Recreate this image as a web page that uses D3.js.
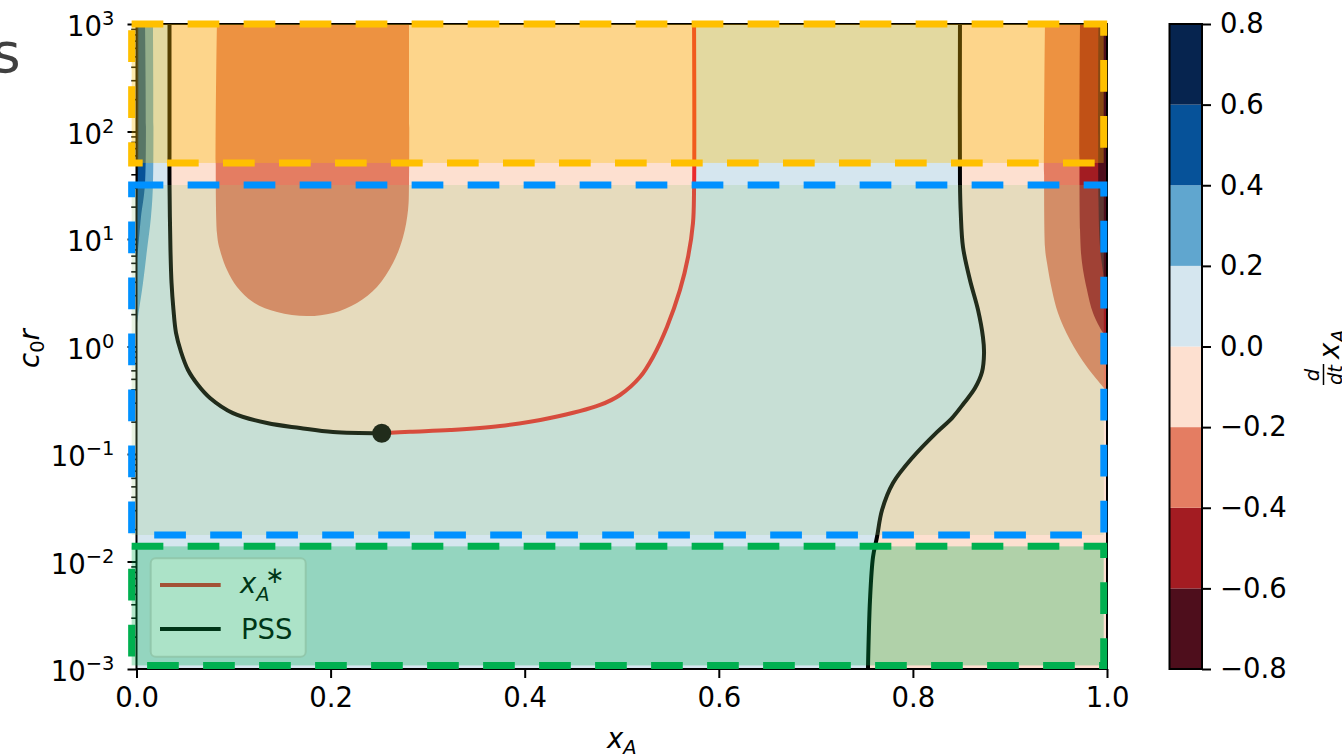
<!DOCTYPE html>
<html>
<head>
<meta charset="utf-8">
<script src="https://cdn.jsdelivr.net/npm/d3@7"></script>
<style>
  body { margin: 0; background: #fff; }
  svg { display: block; font-family: "DejaVu Sans", sans-serif; }
</style>
</head>
<body>
<svg id="chart" width="1342" height="754"></svg>
<script>
// ---- contour levels of d/dt x_A and their fill colours ----
const levels = [-0.8, -0.6, -0.4, -0.2, 0.0, 0.2, 0.4, 0.6, 0.8];
const levelColors = ["#4e0e1c", "#a31c22", "#e47d62", "#fde0d0",
                     "#d5e6ef", "#60a6cf", "#065299", "#06244f"];

// ---- axis ticks ----
const xTicks = [0, 0.2, 0.4, 0.6, 0.8, 1.0];
const yTicks = [1e-3, 1e-2, 1e-1, 1e0, 1e1, 1e2, 1e3];
const yMinorTicks = d3.range(-3, 3).flatMap(e => d3.range(2, 10).map(k => k * Math.pow(10, e)));

// ---- curves as [x_A, c0 r] ----
// zero level, left branch (PSS), from the top down to the fixed point
const pssLeft = [[0.034, 1000], [0.034, 67], [0.034, 33], [0.035, 7.9], [0.0361, 3.9],
  [0.0381, 2.19], [0.0407, 1.34], [0.0459, 0.889], [0.0531, 0.604], [0.0634, 0.438],
  [0.0757, 0.332], [0.0994, 0.240], [0.1345, 0.194], [0.1685, 0.1745], [0.2025, 0.160],
  [0.2527, 0.156]];
// zero level, stable branch x*_A, from the fixed point up to the top
const xStar = [[0.2527, 0.156], [0.2818, 0.161], [0.323, 0.167], [0.3746, 0.182],
  [0.4261, 0.216], [0.4776, 0.286], [0.4982, 0.354], [0.5188, 0.52], [0.5322, 0.80],
  [0.5466, 1.52], [0.560, 3.36], [0.5683, 6.8], [0.5734, 14.1], [0.5745, 28.6], [0.5745, 1000]];
// zero level, right branch (PSS)
const pssRight = [[0.8485, 1000], [0.8485, 33], [0.8493, 17.5], [0.8516, 8.43], [0.8588, 4.16],
  [0.8671, 2.19], [0.8722, 1.22], [0.8733, 0.87], [0.8712, 0.579], [0.864, 0.411],
  [0.8527, 0.298], [0.8403, 0.216], [0.8248, 0.160], [0.8001, 0.0938], [0.7795, 0.0537],
  [0.7682, 0.0301], [0.763, 0.0169], [0.7589, 0.011], [0.7558, 0.00439], [0.7537, 0.001]];
// -0.2 level, middle lobe
const neg02Mid = [[0.0829, 1000], [0.0829, 11.4], [0.086, 7.9], [0.0933, 5.15], [0.1036, 3.58],
  [0.12, 2.59], [0.1448, 2.09], [0.1757, 1.92], [0.2025, 2.05], [0.2272, 2.54], [0.2478, 3.58],
  [0.2643, 5.98], [0.2746, 10.4], [0.2798, 18.6], [0.2808, 33.2], [0.2808, 1000]];
// -0.2, -0.4, -0.6 levels near x_A = 1
const neg02Right = [[0.9361, 1000], [0.9361, 8.43], [0.9382, 5.98], [0.9433, 3.36],
  [0.9495, 2.05], [0.9619, 1.15], [0.9794, 0.644], [0.9959, 0.42], [1.0, 0.377]];
const neg04Right = [[0.9722, 1000], [0.9722, 12.1], [0.9743, 5.98], [0.9794, 3.36],
  [0.9856, 2.05], [0.9959, 1.34], [1.0, 1.20]];
const neg06Right = [[0.9912, 1000], [0.9912, 23.1], [0.9928, 8.43], [0.9969, 4.16], [1.0, 2.19]];
// 0.2, 0.4, 0.6 levels near x_A = 0
const pos02Left = [[0.017, 1000], [0.017, 33.2], [0.0149, 16.0], [0.0108, 7.9],
  [0.0067, 3.9], [0.0015, 1.88], [0.0, 1.52]];
const pos04Left = [[0.0088, 1000], [0.0088, 33.2], [0.0046, 16.0], [0.0015, 7.9], [0.0, 6.1]];
const pos06Left = [[0.0019, 1000], [0.0019, 67], [0.001, 23], [0.0, 12.1]];

// saddle-node point where the two branches meet
const fixedPoint = [0.2527, 0.156];

// highlighted regimes: [x_A from, x_A to, c0 r low, c0 r high]
const regimeHigh = [-0.005, 0.9966, 51, 1000];
const regimeMid = [-0.005, 0.9967, 0.01766, 31.8];
const regimeLow = [-0.005, 0.9966, 0.00108, 0.01383];

// ---------------------------------------------------------------
const svg = d3.select("#chart");
const FONT = "'DejaVu Sans', sans-serif";
const FS = 27.5, FS_SMALL = 19.5;
const plot = { left: 136.5, right: 1107, top: 24, bottom: 669 };

const x = d3.scaleLinear().domain([0, 1]).range([plot.left, plot.right]);
const y = d3.scaleLog().domain([1e-3, 1e3]).range([plot.bottom, plot.top]);

const curve = d3.line().x(d => x(d[0])).y(d => y(d[1])).curve(d3.curveCatmullRom.alpha(0.5));
const region = (pts, corners) =>
  curve(pts) + corners.map(p => `L${x(p[0])},${y(p[1])}`).join("") + "Z";

svg.append("clipPath").attr("id", "plotClip")
  .append("rect").attr("x", plot.left).attr("y", plot.top)
  .attr("width", plot.right - plot.left).attr("height", plot.bottom - plot.top);

const field = svg.append("g").attr("clip-path", "url(#plotClip)");

// level 0 .. 0.2 fills the background
field.append("rect").attr("x", plot.left).attr("y", plot.top)
  .attr("width", plot.right - plot.left).attr("height", plot.bottom - plot.top)
  .attr("fill", levelColors[4]);

const fills = [
  { d: region(pssLeft.concat(xStar.slice(1)), []), c: levelColors[3] },
  { d: region(pssRight, [[1.02, 0.0008], [1.02, 1000]]), c: levelColors[3] },
  { d: region(neg02Mid, []), c: levelColors[2] },
  { d: region(neg02Right, [[1.02, 0.377], [1.02, 1000]]), c: levelColors[2] },
  { d: region(neg04Right, [[1.02, 1.20], [1.02, 1000]]), c: levelColors[1] },
  { d: region(neg06Right, [[1.02, 2.19], [1.02, 1000]]), c: levelColors[0] },
  { d: region(pos02Left, [[-0.02, 1.52], [-0.02, 1000]]), c: levelColors[5] },
  { d: region(pos04Left, [[-0.02, 6.1], [-0.02, 1000]]), c: levelColors[6] },
  { d: region(pos06Left, [[-0.02, 12.1], [-0.02, 1000]]), c: levelColors[7] }
];
field.selectAll("path.level").data(fills).join("path")
  .attr("class", "level").attr("d", d => d.d).attr("fill", d => d.c);

// zero-level branches
field.append("path").attr("d", curve(xStar)).attr("fill", "none")
  .attr("stroke", "#ea2a2c").attr("stroke-width", 4);
field.append("path").attr("d", curve(pssLeft)).attr("fill", "none")
  .attr("stroke", "#000").attr("stroke-width", 4);
field.append("path").attr("d", curve(pssRight)).attr("fill", "none")
  .attr("stroke", "#000").attr("stroke-width", 4);
field.append("circle").attr("cx", x(fixedPoint[0])).attr("cy", y(fixedPoint[1]))
  .attr("r", 9.5).attr("fill", "#000");

// legend
const legend = svg.append("g").attr("font-family", FONT);
legend.append("rect").attr("x", 150.7).attr("y", 558.3).attr("width", 155).attr("height", 98.4)
  .attr("rx", 5).attr("fill", "rgba(255,255,255,0.8)")
  .attr("stroke", "rgba(204,204,204,0.8)").attr("stroke-width", 2);
legend.append("line").attr("x1", 160).attr("x2", 220.7).attr("y1", 585).attr("y2", 585)
  .attr("stroke", "#ea2a2c").attr("stroke-width", 4);
legend.append("line").attr("x1", 160).attr("x2", 220.7).attr("y1", 629).attr("y2", 629)
  .attr("stroke", "#000").attr("stroke-width", 4);
const lx = legend.append("text").attr("x", 240).attr("y", 593).attr("font-size", FS).attr("fill", "#000");
lx.append("tspan").attr("font-style", "italic").text("x");
lx.append("tspan").attr("font-style", "italic").attr("font-size", FS_SMALL).attr("dy", 7.5).text("A");
lx.append("tspan").attr("font-size", 23).attr("x", 265).attr("y", 583).text("\u2217");
legend.append("text").attr("x", 241).attr("y", 639).attr("font-size", FS).attr("fill", "#000").text("PSS");

// spines
svg.append("rect").attr("x", plot.left).attr("y", plot.top)
  .attr("width", plot.right - plot.left).attr("height", plot.bottom - plot.top)
  .attr("fill", "none").attr("stroke", "#000").attr("stroke-width", 2);

// x axis
const gx = svg.append("g").attr("transform", `translate(0,${plot.bottom})`)
  .call(d3.axisBottom(x).tickValues(xTicks).tickSize(9).tickPadding(9)
    .tickFormat(d3.format(".1f")));
gx.select(".domain").remove();
gx.attr("font-size", FS).attr("font-family", FONT);
gx.selectAll(".tick line").attr("stroke", "#000").attr("stroke-width", 2);
gx.selectAll(".tick text").attr("fill", "#000");

// y axis (log): minor then major ticks
const gyMinor = svg.append("g").attr("transform", `translate(${plot.left},0)`)
  .call(d3.axisLeft(y).tickValues(yMinorTicks).tickSize(5.2).tickFormat(""));
gyMinor.select(".domain").remove();
gyMinor.selectAll(".tick line").attr("stroke", "#000").attr("stroke-width", 1.6);

const gy = svg.append("g").attr("transform", `translate(${plot.left},0)`)
  .call(d3.axisLeft(y).tickValues(yTicks).tickSize(9).tickPadding(9).tickFormat(""));
gy.select(".domain").remove();
gy.attr("font-size", FS).attr("font-family", FONT);
gy.selectAll(".tick line").attr("stroke", "#000").attr("stroke-width", 2);
gy.selectAll(".tick text").each(function (d) {
  const t = d3.select(this).attr("fill", "#000").attr("x", -22).attr("dy", null).attr("y", 11.5);
  const e = Math.round(Math.log10(d));
  t.append("tspan").text("10");
  t.append("tspan").attr("font-size", FS_SMALL).attr("dy", -11).text(d3.format("d")(e));
});

// axis labels
const xl = svg.append("text").attr("x", (plot.left + plot.right) / 2).attr("y", 748)
  .attr("text-anchor", "middle").attr("font-family", FONT).attr("font-size", FS);
xl.append("tspan").attr("font-style", "italic").text("x");
xl.append("tspan").attr("font-style", "italic").attr("font-size", FS_SMALL).attr("dy", 6).text("A");

const yl = svg.append("text").attr("transform", `translate(39,${(plot.top + plot.bottom) / 2 + 2}) rotate(-90)`)
  .attr("text-anchor", "middle").attr("font-family", FONT).attr("font-size", FS);
yl.append("tspan").attr("font-style", "italic").text("c");
yl.append("tspan").attr("font-size", FS_SMALL).attr("dy", 5).text("0");
yl.append("tspan").attr("font-style", "italic").attr("dy", -5).text("r");

// highlighted regimes (translucent boxes with dashed outlines)
const regimes = [
  { r: regimeHigh, fill: "rgba(255,190,0,0.33)", stroke: "#ffc000" },
  { r: regimeMid, fill: "rgba(150,202,125,0.22)", stroke: "#0091ff" },
  { r: regimeLow, fill: "rgba(0,176,80,0.3)", stroke: "#00b050" }
];
svg.append("g").selectAll("rect").data(regimes).join("rect")
  .attr("x", d => x(d.r[0])).attr("y", d => y(d.r[3]))
  .attr("width", d => x(d.r[1]) - x(d.r[0])).attr("height", d => y(d.r[2]) - y(d.r[3]))
  .attr("fill", d => d.fill).attr("stroke", d => d.stroke)
  .attr("stroke-width", 7).attr("stroke-dasharray", "31.7 24.3");

// colourbar
const cScale = d3.scaleLinear().domain([levels[0], levels[levels.length - 1]]).range([669, 24]);
const cbar = svg.append("g");
cbar.selectAll("rect").data(d3.range(levels.length - 1)).join("rect")
  .attr("x", 1169.5).attr("width", 32.5)
  .attr("y", i => cScale(levels[i + 1])).attr("height", i => cScale(levels[i]) - cScale(levels[i + 1]))
  .attr("fill", i => levelColors[i]);
cbar.append("rect").attr("x", 1169.5).attr("y", 24).attr("width", 32.5).attr("height", 645)
  .attr("fill", "none").attr("stroke", "#000").attr("stroke-width", 2);
const gc = svg.append("g").attr("transform", "translate(1202,0)")
  .call(d3.axisRight(cScale).tickValues(levels).tickSize(9).tickPadding(9).tickFormat(d3.format(".1f")));
gc.select(".domain").remove();
gc.attr("font-size", FS).attr("font-family", FONT);
gc.selectAll(".tick line").attr("stroke", "#000").attr("stroke-width", 2);
gc.selectAll(".tick text").attr("fill", "#000");

// colourbar label: d/dt x_A
const cl = svg.append("g").attr("transform", "translate(1341,385) rotate(-90)")
  .attr("font-family", FONT).attr("fill", "#000");
cl.append("text").attr("x", 10).attr("y", -22).attr("text-anchor", "middle").attr("font-size", FS_SMALL)
  .attr("font-style", "italic").text("d");
cl.append("line").attr("x1", 0).attr("x2", 21).attr("y1", -17.5).attr("y2", -17.5)
  .attr("stroke", "#000").attr("stroke-width", 1.5);
cl.append("text").attr("x", 10).attr("y", 1).attr("text-anchor", "middle").attr("font-size", FS_SMALL)
  .attr("font-style", "italic").text("dt");
const cx = cl.append("text").attr("x", 26).attr("y", -2).attr("font-size", FS);
cx.append("tspan").attr("font-style", "italic").text("x");
cx.append("tspan").attr("font-style", "italic").attr("font-size", FS_SMALL).attr("dy", 6).text("A");

// panel title fragment at the top-left edge
svg.append("text").attr("x", -8).attr("y", 72).attr("font-family", FONT)
  .attr("font-size", 55).attr("fill", "#404040").text("s");
</script>
</body>
</html>
